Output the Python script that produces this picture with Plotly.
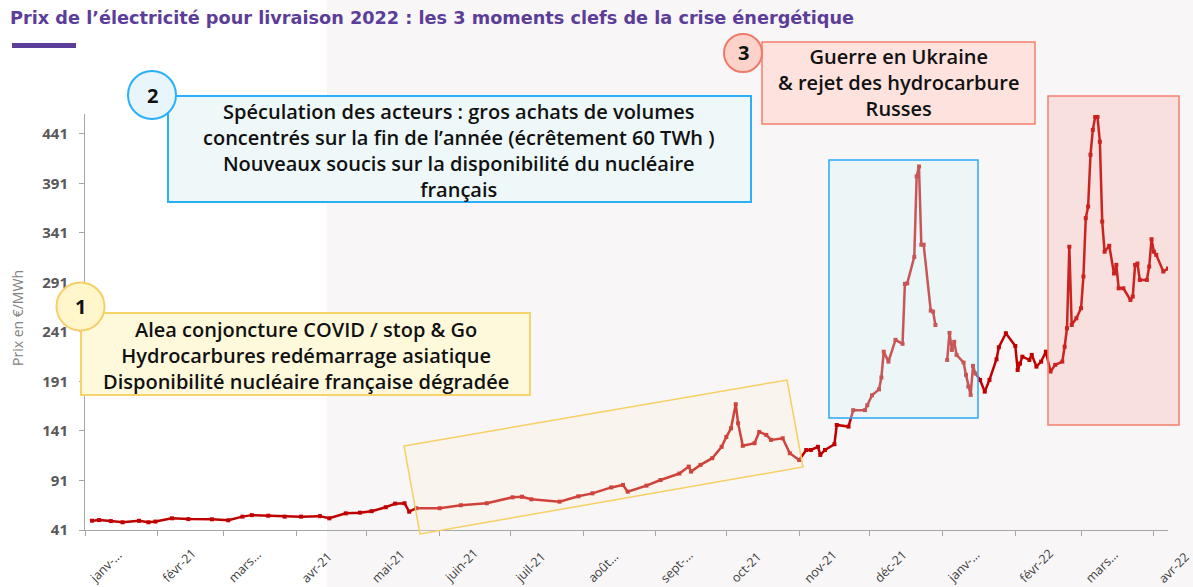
import plotly.graph_objects as go

# ---------------- data ----------------
dates = [
    "2021-01-04", "2021-01-07", "2021-01-12", "2021-01-17", "2021-01-24", "2021-01-28", "2021-01-31",
    "2021-02-07", "2021-02-14", "2021-02-24", "2021-03-03", "2021-03-09", "2021-03-13", "2021-03-20",
    "2021-03-27", "2021-04-03", "2021-04-11", "2021-04-15", "2021-04-22", "2021-04-28", "2021-05-03",
    "2021-05-09", "2021-05-13", "2021-05-17", "2021-05-19", "2021-05-22", "2021-06-01", "2021-06-10",
    "2021-06-21", "2021-07-02", "2021-07-06", "2021-07-10", "2021-07-22", "2021-07-30", "2021-08-05",
    "2021-08-13", "2021-08-18", "2021-08-20", "2021-08-28", "2021-09-03", "2021-09-11", "2021-09-15",
    "2021-09-16", "2021-09-20", "2021-09-25", "2021-09-29", "2021-10-01", "2021-10-03", "2021-10-05",
    "2021-10-06", "2021-10-08", "2021-10-13", "2021-10-15", "2021-10-18", "2021-10-20", "2021-10-25",
    "2021-10-28", "2021-11-01", "2021-11-04", "2021-11-06", "2021-11-09", "2021-11-10", "2021-11-12",
    "2021-11-16", "2021-11-17", "2021-11-22", "2021-11-24", "2021-11-29", "2021-11-30", "2021-12-02",
    "2021-12-05", "2021-12-06", "2021-12-07", "2021-12-09", "2021-12-12", "2021-12-15", "2021-12-16",
    "2021-12-17", "2021-12-20", "2021-12-21", "2021-12-22", "2021-12-23", "2021-12-24", "2021-12-27",
    "2021-12-28", "2021-12-29", "2021-12-31",
    "2022-01-03", "2022-01-04", "2022-01-05", "2022-01-06", "2022-01-07", "2022-01-10", "2022-01-11",
    "2022-01-12", "2022-01-13", "2022-01-14", "2022-01-15", "2022-01-17", "2022-01-19", "2022-01-21",
    "2022-01-24", "2022-01-25", "2022-01-28", "2022-02-01", "2022-02-02", "2022-02-03", "2022-02-04",
    "2022-02-07", "2022-02-08", "2022-02-10", "2022-02-12", "2022-02-14", "2022-02-16", "2022-02-18",
    "2022-02-21", "2022-02-22", "2022-02-23", "2022-02-24", "2022-02-25", "2022-02-27", "2022-03-01",
    "2022-03-02", "2022-03-03", "2022-03-04", "2022-03-05", "2022-03-06", "2022-03-07", "2022-03-08",
    "2022-03-09", "2022-03-10", "2022-03-11", "2022-03-13", "2022-03-15", "2022-03-16", "2022-03-17",
    "2022-03-19", "2022-03-22", "2022-03-23", "2022-03-24", "2022-03-25", "2022-03-26", "2022-03-29",
    "2022-03-30", "2022-03-31", "2022-04-01", "2022-04-02", "2022-04-05", "2022-04-07",
]
prices = [
    50.4, 51, 50, 48.8, 50.3, 48.8, 49.5,
    52.8, 52, 51.8, 50.8, 54.5, 56, 55.4,
    54.5, 54.5, 55, 52.8, 57.8, 58.5, 60,
    64, 67.6, 68, 59.5, 63, 63, 66,
    68, 74, 74.6, 72, 69.6, 75, 78,
    84, 86.5, 79.7, 85.8, 91.5, 98, 105,
    100, 106.7, 113.5, 125, 135, 143.7, 168,
    148.8, 126, 128.6, 140, 137, 132, 133.6,
    118.5, 111.7, 121.8, 121.8, 125, 116.8, 121.8,
    127.6, 147, 145.4, 162, 162, 167, 177,
    183, 195, 221, 211, 233, 229, 289.5,
    290, 316.7, 398, 408, 329, 329, 262.5,
    261.5, 248, None,
    212.7, 240, 222.8, 231, 217.8, 210, 197.6,
    185.8, 177.4, 206.7, 199, 192.5, 180.7, 192.5,
    213.4, 225.5, 239.6, 226.8, 202.6, 209, 216,
    212.7, 217.8, 206, 211, 221, 201, 207.7,
    211, 226, 244.7, 327, 248, 254.8, 265,
    297, 355.8, 367.6, 419.8, 445, 458, 458,
    433, 352.4, 322, 327.9, 300, 308.7, 285,
    285, 273.3, 276.7, 308.7, 310, 293.5, 293.5,
    307, 334.6, 322, 318.8, 302, 305,
]

y_ticks = [41, 91, 141, 191, 241, 291, 341, 391, 441]
x_tick_dates = ["2021-01-01", "2021-02-01", "2021-03-01", "2021-04-01", "2021-05-01", "2021-06-01",
                "2021-07-01", "2021-08-01", "2021-09-01", "2021-10-01", "2021-11-01", "2021-12-01",
                "2022-01-01", "2022-02-01", "2022-03-01", "2022-04-01"]
x_tick_labels = ["janv-...", "févr-21", "mars...", "avr-21", "mai-21", "juin-21", "juil-21", "août...",
                 "sept-...", "oct-21", "nov-21", "déc-21", "janv-...", "févr-22", "mars...", "avr-22"]

title_text = "Prix de l’électricité pour livraison 2022 : les 3 moments clefs de la crise énergétique"
box1_lines = ["Alea conjoncture COVID / stop & Go",
              "Hydrocarbures redémarrage asiatique",
              "Disponibilité nucléaire française dégradée"]
box2_lines = ["Spéculation des acteurs : gros achats de volumes",
              "concentrés sur la fin de l’année (écrêtement 60 TWh )",
              "Nouveaux soucis sur la disponibilité du nucléaire",
              "français"]
box3_lines = ["Guerre en Ukraine",
              "& rejet des hydrocarbure",
              "Russes"]

# ---------------- layout helpers (pixel -> paper) ----------------
W, H = 1193, 587
PL, PT, PW, PH = 85, 114, 1083, 416


def px(x):
    return (x - PL) / PW


def py(y):
    return (PT + PH - y) / PH


FONT = "Open Sans"

fig = go.Figure()
fig.add_trace(go.Scatter(
    x=dates, y=prices, mode="lines+markers",
    line=dict(color="#c00000", width=2.5),
    marker=dict(color="#c00000", size=4, symbol="square"),
    connectgaps=False, showlegend=False, hoverinfo="x+y",
))

shapes = []
# slide background split
shapes.append(dict(type="rect", xref="paper", yref="paper", x0=px(327), x1=px(W + 5), y0=py(H + 5), y1=py(-5),
                   fillcolor="#f8f6f7", line=dict(width=0), layer="below"))
# title underline bar
shapes.append(dict(type="rect", xref="paper", yref="paper", x0=px(12), x1=px(76), y0=py(48), y1=py(43),
                   fillcolor="#5c3d99", line=dict(width=0)))


def poly(pts):
    return "M " + " L ".join(f"{px(a):.5f},{py(b):.5f}" for a, b in pts) + " Z"


# highlight zones
shapes.append(dict(type="path", xref="paper", yref="paper",
                   path=poly([(404, 446), (787, 380), (803, 467), (420, 534)]),
                   fillcolor="rgba(253,240,215,0.28)", line=dict(color="#f7cf63", width=1.5), layer="above"))
shapes.append(dict(type="rect", xref="paper", yref="paper", x0=px(829), x1=px(978), y0=py(418), y1=py(160),
                   fillcolor="rgba(215,245,245,0.35)", line=dict(color="#2aa8f5", width=1.5), layer="above"))
shapes.append(dict(type="rect", xref="paper", yref="paper", x0=px(1048), x1=px(1179), y0=py(425), y1=py(96),
                   fillcolor="rgba(248,150,140,0.23)", line=dict(color="#f4806e", width=1.5), layer="above"))

# text boxes
shapes.append(dict(type="rect", xref="paper", yref="paper", x0=px(81), x1=px(530), y0=py(395), y1=py(313),
                   fillcolor="#fff9dc", line=dict(color="#f7d36b", width=2), layer="above"))
shapes.append(dict(type="rect", xref="paper", yref="paper", x0=px(168), x1=px(751), y0=py(202), y1=py(96),
                   fillcolor="#eef8f9", line=dict(color="#29b0f6", width=2), layer="above"))
shapes.append(dict(type="rect", xref="paper", yref="paper", x0=px(762), x1=px(1035), y0=py(124), y1=py(42),
                   fillcolor="#fde2de", line=dict(color="#f4806e", width=1.5), layer="above"))


def circle(cx, cy, r, fill, border):
    return dict(type="circle", xref="paper", yref="paper", x0=px(cx - r), x1=px(cx + r),
                y0=py(cy + r), y1=py(cy - r), fillcolor=fill, line=dict(color=border, width=2), layer="above")


shapes.append(circle(80.5, 306.5, 24, "#fff6cc", "#f5d06a"))
shapes.append(circle(152, 95, 24, "#e8f6fb", "#29b0f6"))
shapes.append(circle(743, 53, 19, "#fbd3cb", "#f07a6a"))

annotations = []
annotations.append(dict(text=f"<b>{title_text}</b>", xref="paper", yref="paper", x=px(8), y=py(18),
                        xanchor="left", yanchor="middle", showarrow=False,
                        font=dict(family="DejaVu Sans", size=17.7, color="#5c3d99")))


def text_block(lines, cx, cy, size):
    annotations.append(dict(text="<br>".join(lines), xref="paper", yref="paper", x=px(cx), y=py(cy),
                            xanchor="center", yanchor="middle", showarrow=False, align="center",
                            font=dict(family=FONT, size=size, color="#111111", weight=600)))


text_block(box1_lines, 305.5, 355, 20)
text_block(box2_lines, 459.5, 150, 20)
text_block(box3_lines, 898.5, 83, 20)

for n, (cx, cy) in zip(["1", "2", "3"], [(80.5, 306.5), (152, 95), (743, 53)]):
    annotations.append(dict(text=f"<b>{n}</b>", xref="paper", yref="paper", x=px(cx), y=py(cy),
                            xanchor="center", yanchor="middle", showarrow=False,
                            font=dict(family=FONT, size=20, color="#111111")))
# y-axis title
annotations.append(dict(text="Prix en €/MWh", xref="paper", yref="paper", x=px(17), y=py(318),
                        xanchor="center", yanchor="middle", textangle=-90, showarrow=False,
                        font=dict(family=FONT, size=14, color="#808080")))
# x tick labels (rotated, starting at the tick)
for d, lab in zip(x_tick_dates, x_tick_labels):
    annotations.append(dict(text=lab, xref="x", yref="paper", x=d, y=py(589), xshift=-2,
                            xanchor="left", yanchor="bottom", textangle=-45, showarrow=False,
                            font=dict(family=FONT, size=12.5, color="#404040")))

fig.update_layout(
    width=W, height=H,
    margin=dict(l=PL, r=W - PL - PW, t=PT, b=H - PT - PH, pad=0),
    paper_bgcolor="white", plot_bgcolor="rgba(0,0,0,0)",
    shapes=shapes, annotations=annotations, showlegend=False,
    xaxis=dict(type="date", range=["2021-01-01", "2022-04-07"], showgrid=False, zeroline=False,
               showline=True, linecolor="#a6a6a6", linewidth=1, ticks="outside", ticklen=5,
               tickcolor="#a6a6a6", tickvals=x_tick_dates, showticklabels=False),
    yaxis=dict(range=[41, 461], showgrid=False, zeroline=False, showline=True, linecolor="#a6a6a6",
               linewidth=1, ticks="outside", ticklen=5, tickcolor="#a6a6a6", tickvals=y_ticks,
               ticktext=[f"<b>{v}</b>" for v in y_ticks], ticklabelstandoff=8,
               tickfont=dict(family=FONT, size=15, color="#595959")),
)

fig.write_html("out.html", config={"displayModeBar": False},
               post_script="document.body.style.margin='0';document.body.style.overflow='hidden';")
